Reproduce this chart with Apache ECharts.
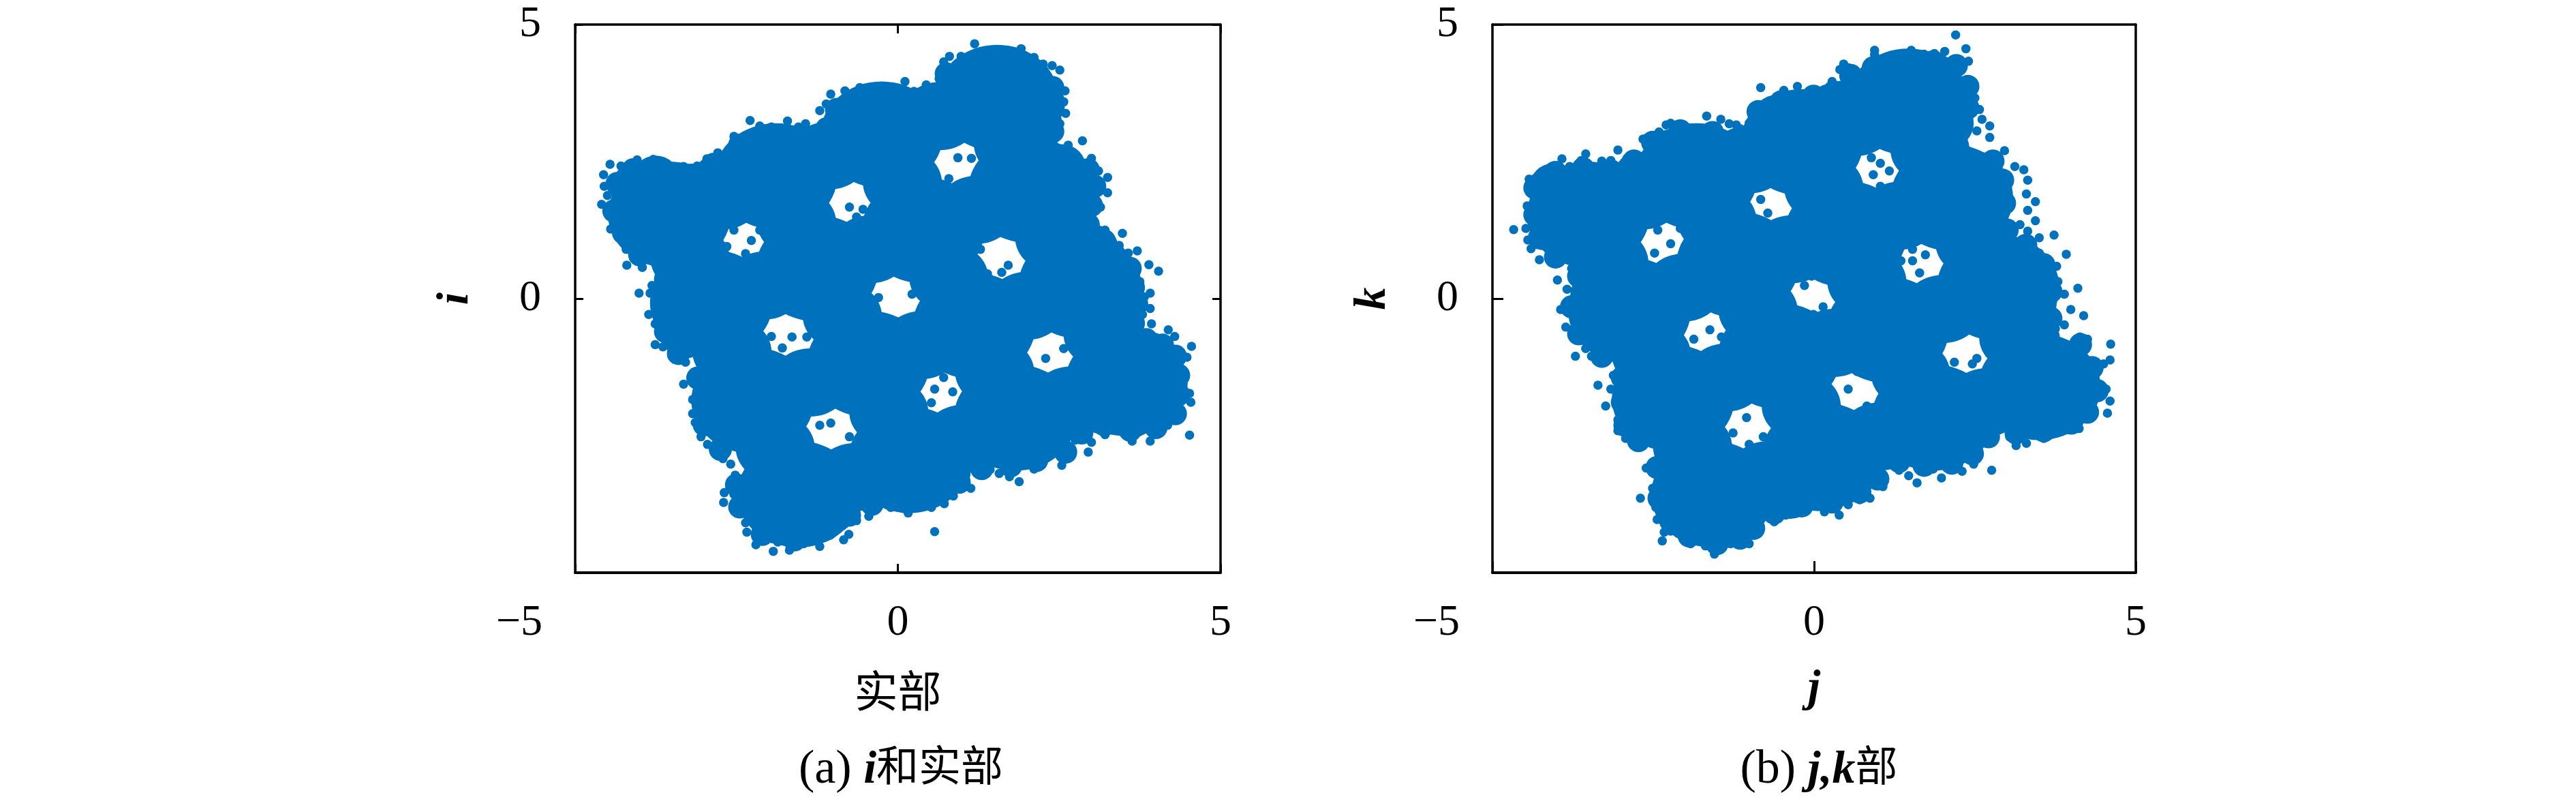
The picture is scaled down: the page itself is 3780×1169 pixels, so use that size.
<!DOCTYPE html>
<html>
<head>
<meta charset="utf-8">
<title>i, j, k</title>
<style>
  html, body { margin: 0; background: #fff; }
  #main { width: 3780px; height: 1169px; }
</style>
</head>
<body>
<div id="main"></div>
<script src="https://cdn.jsdelivr.net/npm/echarts@6/dist/echarts.min.js"></script>
<script>
const ticks = [-5, 0, 5];

// the blobs are thousands of overlapping dots in the source. read here as
// cluster bodies, the filled parts between them, the filled rim, the outline
// of the mass, and the separate dots visible on the edges and in the holes
const clustersA = [
  [-3.54, 1.53], [-1.89, 2.23], [-0.25, 2.99], [1.54, 3.66],
  [-2.89, -0.08], [-1.25, 0.55], [0.39, 1.25], [2.04, 1.98],
  [-2.25, -1.86], [-0.46, -1.19], [1.18, -0.50], [2.82, 0.24],
  [-1.54, -3.57], [0.18, -2.94], [1.82, -2.17], [3.54, -1.54]
];
const bridgesA = [
  [-2.72,1.88],[-1.07,2.61],[.65,3.33],[-2.07,.24],[-.43,.90],[1.22,1.62],
  [-1.36,-1.53],[.36,-.85],[2.00,-.13],[-.68,-3.26],[1.00,-2.56],[2.68,-1.86],
  [-3.22,.73],[-2.57,-.97],[-1.90,-2.72],[-1.57,1.39],[-.86,-.32],[-.14,-2.07],
  [.07,2.12],[.79,.38],[1.50,-1.34],[1.79,2.82],[2.43,1.11],[3.18,-.65]
];
const rimA = [
  [1.11,3.94],[1.54,4.01],[1.96,3.94],[2.21,3.55],[2.18,3.13],[2.54,2.37],[2.68,1.95],[2.61,1.53],
  [3.04,.90],[3.18,.41],[3.39,0],[3.32,-.36],[3.89,-1.05],[4.07,-1.54],[4.00,-1.96],[3.61,-2.10],
  [3.18,-2.03],[2.25,-2.45],[2.11,-2.59],[1.75,-2.66],[1.39,-2.59],[.75,-3.15],[.39,-3.39],[-.04,-3.43],
  [-.46,-3.39],[-1.04,-3.85],[-1.46,-4.02],[-1.89,-4.02],[-2.14,-3.64],[-2.64,-2.24],[-2.68,-1.82],[-2.64,-1.40],
  [-3.29,-.64],[-3.36,-.15],[-3.32,.34],[-3.89,1.11],[-4.07,1.53],[-4.07,2.02],[-3.75,2.16],[-3.32,2.02],
  [-2.82,2.16],[-2.25,2.51],[-1.82,2.64],[-1.39,2.64],[-.68,3.27],[-.25,3.38],[.25,3.34],[.61,3.41]
];
const outlineA = [
  [2.95,2.35],[3.05,2.05],[3.0,1.7],[2.95,1.35],[3.2,1.05],[3.35,.8],[3.6,.55],[3.65,.2],[3.7,-.1],[3.65,-.45],
  [3.85,-.75],[4.1,-.85],[4.3,-1.05],[4.35,-1.4],[4.35,-1.75],[4.3,-2.1],[4.0,-2.35],[3.6,-2.4],[3.2,-2.3],[2.85,-2.45],
  [2.6,-2.8],[2.15,-2.95],[1.75,-3.05],[1.3,-3.1],[.95,-3.35],[.5,-3.6],[.1,-3.7],[-.4,-3.75],[-.75,-3.95],[-1.1,-4.2],
  [-1.6,-4.4],[-2.1,-4.3],[-2.45,-3.8],[-2.5,-3.4],[-2.75,-2.75],[-3.0,-2.3],[-3.0,-1.9],[-3.1,-1.45],[-3.4,-1.0],[-3.6,-.6],
  [-3.65,-.1],[-3.6,.35],[-4.0,.8],[-4.25,1.2],[-4.4,1.6],[-4.35,2.1],[-4.1,2.35],[-3.7,2.3],[-3.2,2.25],[-2.85,2.45],
  [-2.45,2.8],[-2.0,2.95],[-1.5,2.95],[-1.1,3.1],[-.95,3.45],[-.6,3.65],[-.1,3.6],[.45,3.65],[.75,4.1],[1.2,4.3],
  [1.7,4.35],[2.15,4.15],[2.4,3.85],[2.3,3.4],[2.4,3.05]
];
const dotsA = [
  [1.19,4.65],[.80,4.42],[.98,4.42],[.71,4.32],[1.91,4.56],[1.52,4.49],[1.36,4.45],[2.11,4.40],[2.25,4.28],[2.39,4.25],
  [2.51,4.17],[.64,4.01],[.11,3.96],[.44,3.90],[2.59,3.79],[2.57,3.59],[2.60,3.38],[2.51,3.19],[-.59,3.85],[-.82,3.79],
  [-1.04,3.73],[-1.21,3.43],[-1.11,3.55],[-.09,3.79],[.25,3.78],[-.39,3.82],[-1.71,3.24],[-1.43,3.19],[-2.29,3.25],[-1.96,3.13],
  [-1.54,3.13],[-2.14,3.15],[-2.54,2.96],[-2.79,2.66],[-2.96,2.55],[-3.11,2.42],[-3.32,2.41],[-3.59,2.38],[-3.79,2.54],[-4.04,2.53],
  [-4.29,2.42],[-4.46,2.45],[-4.56,2.26],[-4.55,2.05],[-4.50,1.88],[-4.59,1.72],[-4.45,1.27],[-4.21,.90],[-4.20,.61],[-3.96,.57],
  [-3.81,.69],[-4.01,.10],[-3.81,.24],[-3.84,.10],[-3.86,-.29],[-3.76,-.46],[-3.76,-.84],[-3.64,-.88],[-3.50,-1.05],[-3.29,-1.16],
  [-3.32,-1.56],[-3.18,-1.84],[-3.18,-2.10],[-3.14,-2.26],[-3.05,-2.52],[-2.95,-2.66],[-2.79,-2.67],[-2.71,-2.92],[-2.59,-3.02],[-2.52,-3.22],
  [-2.69,-3.54],[-2.70,-3.72],[-2.54,-3.57],[-2.43,-3.85],[-2.36,-4.09],[-2.34,-4.26],[-2.20,-4.49],[-1.93,-4.61],[-1.68,-4.59],[-1.86,-4.44],
  [-1.46,-4.47],[-1.21,-4.52],[-1.00,-4.26],[-.84,-4.40],[-.76,-4.30],[-.64,-4.05],[-.45,-3.97],[-.11,-3.81],[.16,-3.91],[.31,-3.81],
  [.52,-3.81],[.72,-3.74],[.86,-3.60],[1.13,-3.46],[.57,-4.25],[1.43,-3.12],[1.57,-3.19],[1.73,-3.25],[1.88,-3.34],[2.11,-3.11],
  [2.54,-3.04],[2.95,-2.80],[3.00,-2.62],[2.75,-2.58],[3.21,-2.48],[3.63,-2.60],[3.91,-2.60],[4.52,-2.49],[4.18,-2.31],[4.54,-1.89],
  [4.52,-1.73],[4.43,-1.39],[4.48,-1.07],[4.55,-.87],[4.29,-.69],[4.19,-.57],[3.93,-.46],[3.91,-.18],[3.79,-.29],[3.91,.10],
  [3.82,.03],[3.75,.31],[4.04,.50],[3.89,.62],[3.71,.87],[3.57,.83],[3.43,.97],[3.48,1.19],[3.21,1.25],[3.00,1.40],
  [3.14,1.67],[3.25,1.93],[3.25,2.21],[3.07,2.02],[3.11,2.33],[3.00,2.56],[2.86,2.88],[2.64,2.80],
  [-.75,1.67],[-.54,1.63],[-.64,1.49],[-2.27,1.06],[-2.54,1.25],[-2.14,1.25],[1.71,.61],[1.61,.48],[1.39,.45],[-1.64,-.70],
  [-1.96,-.69],[-1.41,-.70],[-1.79,-.90],[2.29,-1.09],[2.57,-.91],[.57,-1.65],[.71,-1.44],[-1.04,-2.27],[-1.21,-2.31],[-.75,-2.52],
  [.79,2.19],[.93,2.57],[1.14,2.56],[-.3,.02],[.22,.08],[-2.36,.82],[-2.65,.95],[.52,-1.9],[.85,-1.7],[1.28,.9],[1.95,.25]
];
const clustersB = [
  [-3.51, 1.53], [-1.83, 2.23], [-0.19, 2.85], [1.46, 3.59],
  [-2.87, -0.22], [-1.19, 0.62], [0.49, 1.18], [2.14, 1.84],
  [-2.19, -1.82], [-0.54, -1.05], [1.14, -0.57], [2.86, 0.20],
  [-1.58, -3.57], [0.14, -2.87], [1.85, -2.17], [3.50, -1.61]
];
const bridgesB = [
  [-2.67,1.88],[-1.01,2.54],[.64,3.22],[-2.03,.20],[-.35,.90],[1.32,1.51],
  [-1.37,-1.44],[.30,-.81],[2.00,-.19],[-.72,-3.22],[1.00,-2.52],[2.68,-1.89],
  [-3.19,.66],[-2.53,-1.02],[-1.89,-2.70],[-1.51,1.43],[-.87,-.22],[-.20,-1.96],
  [.15,2.02],[.82,.31],[1.50,-1.37],[1.80,2.72],[2.50,1.02],[3.18,-.71]
];
const rimB = [
  [.92,3.73],[1.35,4.04],[1.85,4.04],[2.07,3.62],[2.10,3.20],[2.57,2.23],[2.64,1.81],[2.68,1.25],
  [3.29,.41],[3.39,-.08],[3.29,-.43],[3.93,-1.40],[4.00,-1.82],[3.64,-2.03],[3.14,-1.96],[2.28,-2.38],
  [2.00,-2.59],[1.64,-2.59],[.49,-3.15],[.06,-3.43],[-.37,-3.57],[-1.15,-3.92],[-1.51,-4.09],[-1.94,-3.98],
  [-2.05,-3.43],[-2.66,-1.96],[-2.66,-1.54],[-3.37,-.36],[-3.41,.06],[-3.34,.34],[-3.91,1.18],[-4.05,1.60],
  [-4.05,2.02],[-3.66,2.02],[-3.23,2.02],[-2.73,2.23],[-2.23,2.64],[-1.73,2.68],[-1.30,2.57],[-.58,3.27],
  [-.15,3.34],[.28,3.48]
];
const outlineB = [
  [.57,4.07],[.92,4.21],[1.35,4.32],[1.85,4.32],[2.21,4.25],[2.39,3.87],[2.39,3.48],[2.28,3.13],[2.78,2.51],[2.93,2.16],
  [2.96,1.74],[3.0,1.25],[3.29,.97],[3.57,.62],[3.68,.13],[3.68,-.36],[3.64,-.70],[4.14,-.84],[4.32,-1.26],[4.40,-1.68],
  [4.25,-2.07],[4.0,-2.27],[3.57,-2.41],[3.14,-2.45],[2.71,-2.52],[2.46,-2.83],[2.14,-3.0],[1.71,-3.04],[1.32,-2.97],[.99,-3.29],
  [.71,-3.53],[.28,-3.71],[-.19,-3.78],[-.62,-3.91],[-.94,-4.19],[-1.15,-4.37],[-1.51,-4.47],[-1.94,-4.33],[-2.23,-4.05],[-2.41,-3.64],
  [-2.44,-3.08],[-2.73,-2.59],[-2.94,-2.31],[-2.98,-1.89],[-2.98,-1.44],[-3.30,-1.05],[-3.66,-.64],[-3.77,-.15],[-3.66,.41],[-4.02,.76],
  [-4.27,1.11],[-4.34,1.53],[-4.34,2.02],[-4.02,2.30],[-3.59,2.37],[-3.16,2.33],[-2.80,2.51],[-2.51,2.85],[-2.08,3.06],[-1.58,3.03],
  [-1.08,2.92],[-.87,3.41],[-.51,3.59],[-.01,3.69],[.39,3.76]
];
const dotsB = [
  [2.20,4.81],[2.36,4.56],[2.40,4.33],[.94,4.53],[.94,4.45],[1.51,4.53],[1.87,4.47],[2.03,4.51],[1.71,4.46],[1.32,4.39],
  [1.16,4.38],[.46,4.28],[.40,4.18],[.54,4.21],[.28,3.96],[.24,3.87],[-.26,3.87],[-.47,3.80],[-.54,3.68],[-.83,3.85],
  [-.01,3.76],[-.92,3.48],[-1.01,3.20],[-1.67,3.33],[-1.45,3.27],[-1.32,3.19],[-1.21,3.17],[-1.15,3.10],[-2.23,3.20],[-2.30,3.17],
  [-2.41,3.04],[-2.66,2.91],[-3.05,2.71],[-2.83,2.61],[-2.91,2.56],[-3.55,2.64],[-3.62,2.52],[-3.92,2.55],[-4.09,2.40],[-3.80,2.41],
  [-3.30,2.51],[-3.16,2.52],[-4.43,2.18],[-4.34,2.19],[-4.17,2.24],[-4.40,1.98],[-4.46,1.69],[-4.41,1.49],[-4.67,1.26],[-4.48,1.28],
  [-4.45,1.07],[-4.40,.91],[-4.27,.71],[-4.04,.66],[-4.24,.97],[-3.77,.55],[-3.66,.45],[-3.99,.34],[-3.84,.17],[-3.94,-.20],
  [-3.86,-.52],[-3.71,-.73],[-3.55,-.91],[-3.71,-1.05],[-3.46,-1.05],[-3.23,-1.09],[-3.12,-1.40],[-3.36,-1.58],[-3.16,-1.65],[-3.24,-1.96],
  [-3.05,-2.21],[-3.05,-2.41],[-2.93,-2.55],[-2.73,-2.69],[-2.61,-3.09],[-2.51,-3.46],[-2.70,-3.64],[-2.46,-3.81],[-2.44,-4.03],[-2.23,-4.24],
  [-2.33,-4.26],[-2.36,-4.42],[-1.92,-4.47],[-1.69,-4.51],[-1.55,-4.66],[-1.30,-4.47],[-1.01,-4.47],[-.62,-4.07],[-.44,-3.95],[-.19,-3.88],
  [.16,-3.89],[.39,-3.95],[.35,-3.78],[.53,-3.76],[.71,-3.67],[.87,-3.64],[1.07,-3.43],[1.47,-3.23],[1.60,-3.36],[1.98,-3.27],
  [1.32,-3.13],[1.85,-3.11],[2.12,-3.08],[2.30,-3.15],[2.48,-3.02],[2.76,-3.13],[3.14,-2.68],[3.30,-2.64],[3.04,-2.52],[3.57,-2.55],
  [3.77,-2.44],[3.94,-2.39],[4.12,-2.37],[4.32,-2.14],[4.56,-2.09],[4.60,-1.87],[4.54,-1.65],[4.50,-1.19],[4.60,-1.12],[4.61,-.83],
  [4.25,-.74],[4.13,-.70],[4.19,-.31],[3.99,-.20],[3.89,-.48],[3.75,-.55],[3.89,.08],[4.10,.19],[3.79,.31],[3.77,.59],
  [3.92,.81],[3.61,.69],[3.50,.83],[3.73,1.16],[3.50,1.11],[3.32,1.23],[3.44,1.42],[3.20,1.35],[3.32,1.61],[3.44,1.77],
  [3.30,1.91],[3.32,2.16],[3.26,2.35],[3.12,2.41],[2.96,2.70],[2.73,3.15],[2.73,2.94],[2.38,2.66],[2.53,3.06],[2.61,3.27],
  [2.57,3.45],[2.50,3.66],[2.46,3.90],
  [.89,2.57],[1.03,2.47],[.92,2.26],[1.17,2.33],[1.03,2.05],[-.87,2.09],[-.72,1.56],[-.83,1.81],[-2.43,1.25],[-2.23,1.00],
  [-2.48,.83],[-2.08,1.28],[1.53,.90],[1.73,.80],[1.53,.69],[1.64,.47],[1.35,.69],[-.04,.41],[.35,.20],[-.01,-.29],
  [.14,-.15],[.21,-.43],[-.15,.24],[-1.62,-.57],[-1.44,-.70],[-1.87,-.74],[-1.83,-.08],[2.53,-1.09],[2.18,-1.16],[2.46,-1.19],
  [.53,-1.65],[.67,-1.33],[.82,-1.96],[.89,-2.14],[-1.05,-2.17],[-1.26,-2.45],[-.79,-2.52],[-1.01,-2.66]
];

const blue = '#0072BD';
const serif = '"Liberation Serif", "Noto Sans CJK SC"';
const mathName = { fontFamily: 'Liberation Serif', fontStyle: 'italic', fontWeight: 'bold', fontSize: 66, color: '#000' };
const cjkName = { fontFamily: serif, fontSize: 64, color: '#000' };

function labelStyle() {
  return {
    fontFamily: serif,
    fontSize: 64,
    color: '#000'
  };
}

// frame and ticks of one panel, tickLen differs between the two panels
function xAxisOf(gridIndex, name, nameStyle, nameGap, tickLen) {
  return {
    type: 'value', gridIndex: gridIndex, min: ticks[0], max: ticks[2], interval: 5,
    name: name, nameLocation: 'middle', nameGap: nameGap, nameTextStyle: nameStyle,
    splitLine: { show: false },
    axisLine: { onZero: false, lineStyle: { color: '#000', width: 4 } },
    axisTick: { inside: true, length: tickLen, lineStyle: { color: '#000', width: 3 } },
    axisLabel: Object.assign(labelStyle(), {
      margin: 42,
      alignMinLabel: 'right',
      formatter: v => (v === ticks[0] ? '{shift|\u2212' + Math.abs(v) + '}' : String(v)),
      rich: { shift: Object.assign(labelStyle(), { padding: [0, 48, 0, 0] }) }
    })
  };
}
function yAxisOf(gridIndex, name, tickLen) {
  return {
    type: 'value', gridIndex: gridIndex, min: ticks[0], max: ticks[2], interval: 5,
    name: name, nameLocation: 'middle', nameGap: 142, nameTextStyle: mathName,
    splitLine: { show: false },
    axisLine: { onZero: false, lineStyle: { color: '#000', width: 3.5 } },
    axisTick: { inside: true, length: tickLen, lineStyle: { color: '#000', width: 3 } },
    axisLabel: Object.assign(labelStyle(), { margin: 50, showMinLabel: false })
  };
}
function mirrorAxis(gridIndex, position, tickLen) {
  return {
    type: 'value', gridIndex: gridIndex, position: position, min: ticks[0], max: ticks[2], interval: 5,
    splitLine: { show: false },
    axisLine: { onZero: false, lineStyle: { color: '#000', width: 3.5 } },
    axisTick: { show: tickLen > 0, inside: true, length: tickLen, lineStyle: { color: '#000', width: 3 } },
    axisLabel: { show: false }
  };
}
function layer(index, data, size) {
  return {
    type: 'scatter', xAxisIndex: index, yAxisIndex: index, data: data,
    symbol: 'circle', symbolSize: size, itemStyle: { color: blue, opacity: 1 }, silent: true
  };
}
function caption(text, left) {
  return {
    text: text, left: left, top: 1090, textAlign: 'center',
    textStyle: { fontFamily: serif, fontSize: 62, fontWeight: 'normal', color: '#000',
      rich: {
        p: { fontFamily: 'Liberation Serif', fontSize: 70 },
        m: { fontFamily: 'Liberation Serif', fontStyle: 'italic', fontWeight: 'bold', fontSize: 68 }
      } }
  };
}

const myChart = echarts.init(document.getElementById('main'), null, { renderer: 'canvas' });
const option = {
  animation: false,
  backgroundColor: '#fff',
  title: [
    caption('{p|(a) }{m|i}和实部', 1317),
    caption('{p|(b) }{m|j,k}部', 2664)
  ],
  grid: [
    { left: 844, top: 36, width: 947, height: 804 },
    { left: 2190, top: 36, width: 944, height: 804 }
  ],
  xAxis: [
    xAxisOf(0, '实部', cjkName, 148, 13),
    xAxisOf(1, 'j', mathName, 138, 17),
    mirrorAxis(0, 'top', 13),
    mirrorAxis(1, 'top', 0)
  ],
  yAxis: [
    yAxisOf(0, 'i', 12),
    yAxisOf(1, 'k', 16),
    mirrorAxis(0, 'right', 12),
    mirrorAxis(1, 'right', 0)
  ],
  series: [
    layer(0, clustersA, [180, 156]), layer(0, bridgesA, [116, 100]), layer(0, rimA, 72), layer(0, outlineA, 34), layer(0, dotsA, 13.5),
    layer(1, clustersB, [180, 156]), layer(1, bridgesB, [116, 100]), layer(1, rimB, 72), layer(1, outlineB, 34), layer(1, dotsB, 13.5)
  ]
};
myChart.setOption(option);
window.addEventListener('resize', myChart.resize);
</script>
</body>
</html>
